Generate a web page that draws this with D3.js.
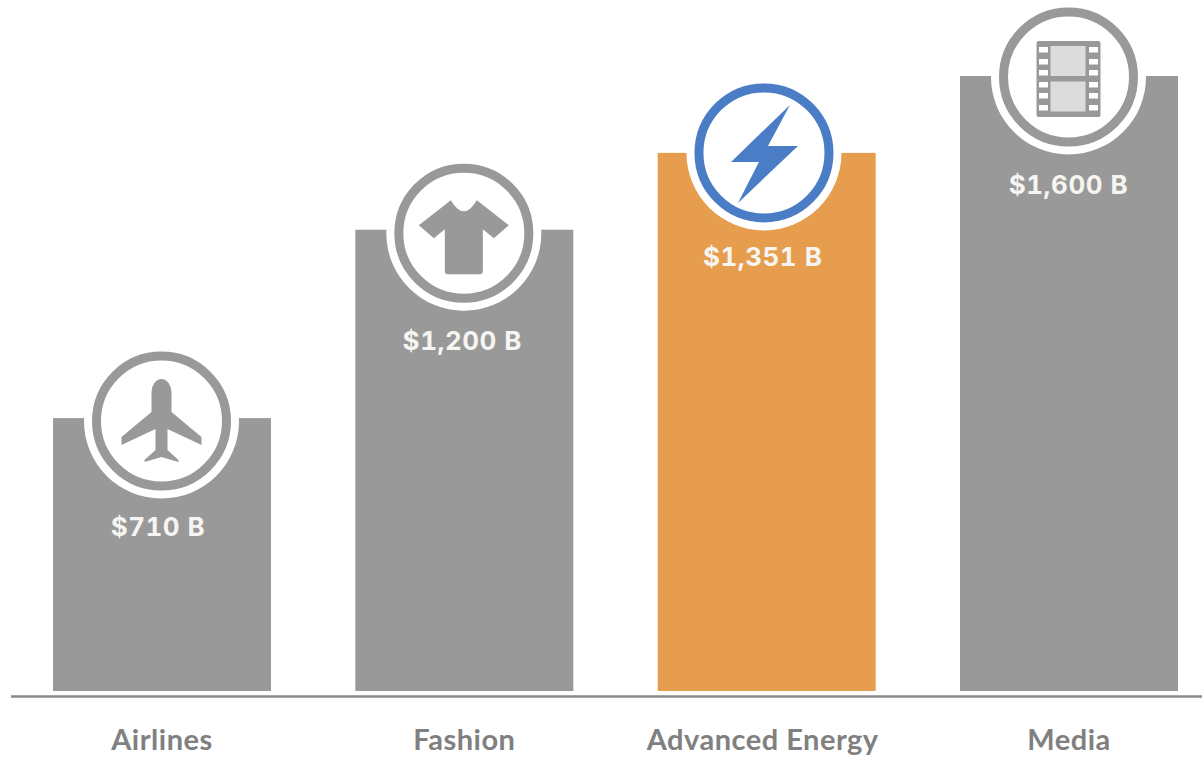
<!DOCTYPE html>
<html>
<head>
<meta charset="utf-8">
<script src="https://cdn.jsdelivr.net/npm/d3@7/dist/d3.min.js"></script>
<style>
html,body{margin:0;padding:0;background:#fff;overflow:hidden}
svg{display:block}
</style>
</head>
<body>
<svg id="chart" width="1202" height="757"></svg>
<script>
// Data
const categories = ["Airlines", "Fashion", "Advanced Energy", "Media"];
// Drawn bar heights, in $B. The Advanced Energy bar is drawn taller than its $1,351 B label.
const barValues = [710, 1200, 1400, 1600];
const valueLabels = ["$710 B", "$1,200 B", "$1,351 B", "$1,600 B"];
const icons = ["plane", "shirt", "bolt", "film"];
const highlighted = ["Advanced Energy"];

const GREY = "#999999", ORANGE = "#E69E4E", BLUE = "#4A7DC6";
const svg = d3.select("#chart");

const x = d3.scaleBand().domain(categories).range([53, 1178]).paddingInner(0.279).paddingOuter(0);
const y = d3.scaleLinear().domain([0, 1600]).range([691, 76]);
const isHi = c => highlighted.includes(c);
const row = categories.map((c, i) => ({c, v: barValues[i], label: valueLabels[i], icon: icons[i]}));

// bars
svg.append("g").selectAll("rect").data(row).join("rect")
  .attr("x", d => x(d.c)).attr("y", d => y(d.v))
  .attr("width", x.bandwidth()).attr("height", d => y(0) - y(d.v))
  .attr("fill", d => isHi(d.c) ? ORANGE : GREY);

// baseline and category labels
svg.append("line").attr("x1", 11).attr("x2", 1202).attr("y1", 696.5).attr("y2", 696.5)
  .attr("stroke", "#8a8a8a").attr("stroke-width", 2.6);
const axis = svg.append("g").attr("transform", "translate(0,697)")
  .call(d3.axisBottom(x).tickSize(0).tickPadding(32));
axis.select(".domain").remove();
axis.selectAll("text")
  .attr("font-family", "Lato, sans-serif").attr("font-size", 29).attr("font-weight", 700)
  .attr("letter-spacing", 0.5)
  .attr("fill", "#808080").attr("text-anchor", "middle");
axis.selectAll(".tick").filter(d => isHi(d)).select("text").attr("dx", -4);

// Glyph shapes in pixels around the ring centre
const poly = d3.line().curve(d3.curveLinearClosed);
const glyphs = {
  plane(g, col) {
    g.append("path").attr("fill", col).attr("d",
      "M-10,-29 A10,13 0 0 1 10,-29 L10,-9 L40,16 L40,24 L6,8 L6,29 L17,39 L17,41 L0,36 L-17,41 L-17,39 L-6,29 L-6,8 L-40,24 L-40,16 L-10,-9 Z"
    );
  },
  shirt(g, col) {
    g.append("path").attr("fill", col).attr("d",
      "M-13,-33 Q0,-11 13,-33 L45,-8 L30,5 L19,-4 L19,38 Q19,41 16,41 L-16,41 Q-19,41 -19,38 L-19,-4 L-30,5 L-45,-8 Z"
    );
  },
  bolt(g, col) {
    g.append("path").attr("fill", col)
      .attr("d", poly([[26,-48],[4,-7],[34,-7],[-26,50],[-5,9],[-33,9]]));
  },
  film(g, col) {
    g.append("rect").attr("x", -32).attr("y", -36).attr("width", 64).attr("height", 76).attr("rx", 2).attr("fill", col);
    [-29.5, 20.5].forEach(hx => {
      [-30, -18, -7, 5, 16, 28].forEach(hy => {
        g.append("rect").attr("x", hx).attr("y", hy).attr("width", 9).attr("height", 5.5).attr("fill", "#fff");
      });
    });
    g.append("rect").attr("x", -18).attr("y", -31).attr("width", 35).attr("height", 30).attr("fill", "#dcdcdc");
    g.append("rect").attr("x", -18).attr("y", 4.5).attr("width", 35).attr("height", 30).attr("fill", "#dcdcdc");
  }
};

// rings with a white halo, sitting on the top edge of each bar
const ringNudgeY = [3, 3.5, 0, 1];
const ringNudgeX = [-0.5, -0.5, -2.7, -0.5];
const labelNudgeX = [-4, -2, -4, -0.5];
const labelGap = [118, 120, 113, 118];
const badges = svg.append("g").selectAll("g").data(row).join("g")
  .attr("transform", (d, i) => `translate(${x(d.c) + x.bandwidth() / 2 + ringNudgeX[i]},${y(d.v) + ringNudgeY[i]})`);
badges.append("circle").attr("r", 77.5).attr("fill", "#fff");
badges.append("circle").attr("r", 65).attr("fill", "#fff")
  .attr("stroke", d => isHi(d.c) ? BLUE : GREY).attr("stroke-width", 9);
badges.each(function(d) {
  glyphs[d.icon](d3.select(this), isHi(d.c) ? BLUE : GREY);
});

// value labels
svg.append("g").selectAll("text").data(row).join("text")
  .attr("x", (d, i) => x(d.c) + x.bandwidth() / 2 + labelNudgeX[i])
  .attr("y", (d, i) => y(d.v) + labelGap[i])
  .attr("text-anchor", "middle")
  .attr("font-family", "Inter, sans-serif").attr("font-weight", 700).attr("font-size", 26)
  .attr("letter-spacing", 0.5)
  .style("font-variant-numeric", "tabular-nums")
  .attr("fill", "#f7f5f2")
  .text(d => d.label);
</script>
</body>
</html>
